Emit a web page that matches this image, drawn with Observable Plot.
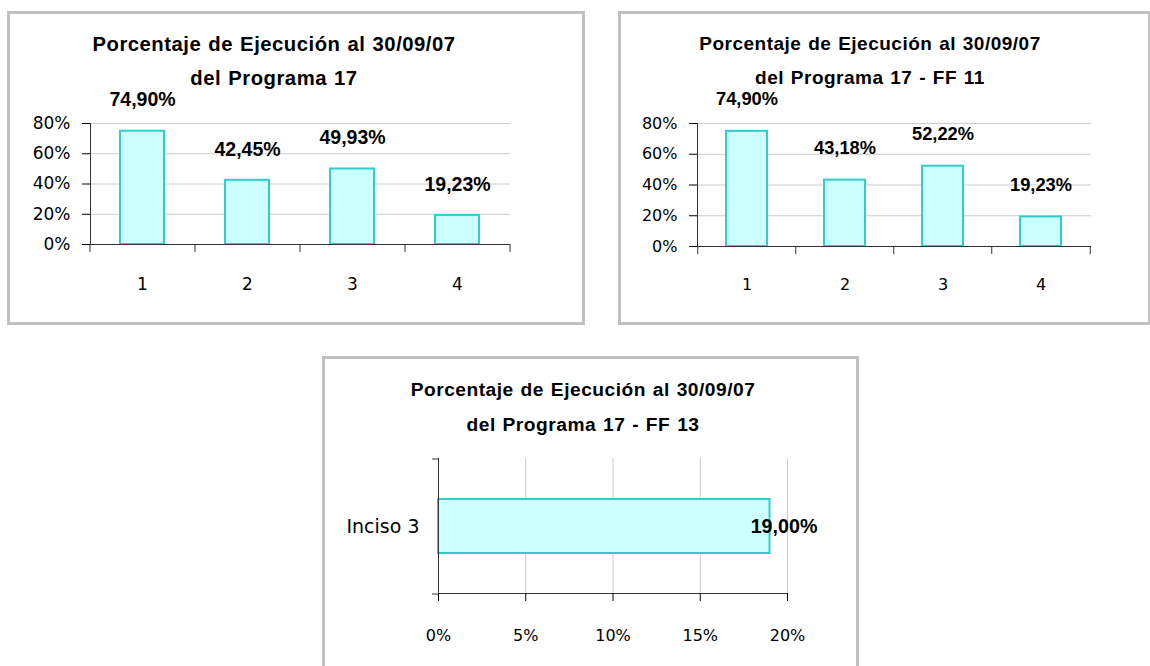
<!DOCTYPE html>
<html>
<head>
<meta charset="utf-8">
<script src="https://cdn.jsdelivr.net/npm/d3@7"></script>
<script src="https://cdn.jsdelivr.net/npm/@observablehq/plot@0.6"></script>
<style>
  html, body { margin: 0; padding: 0; background: #fff; }
  body { position: relative; width: 1150px; height: 666px; overflow: hidden; font-family: "DejaVu Sans", sans-serif; }
  .panel { position: absolute; border: 3px solid #c0c0c0; box-sizing: border-box; background: #fff; }
  .title { position: absolute; font-family: "Liberation Sans", Arial, sans-serif; font-weight: bold; text-align: center; white-space: nowrap; color: #000; transform: translateX(-50%); word-spacing: 1px; letter-spacing: 0.5px; }
  .chart { position: absolute; }
  .chart svg { display: block; overflow: visible; }
</style>
</head>
<body>
<script>
// ---- data ----
const categories = ["1", "2", "3", "4"];
const ejecucionP17 = [74.90, 42.45, 49.93, 19.23];
const ejecucionFF11 = [74.90, 43.18, 52.22, 19.23];
const incisos = ["Inciso 3"];
const ejecucionFF13 = [19.00];
const yTicksPct = [0, 20, 40, 60, 80];
const xTicksPct = [0, 5, 10, 15, 20];
const title1 = ["Porcentaje de Ejecución al 30/09/07", "del Programa 17"];
const title2 = ["Porcentaje de Ejecución al 30/09/07", "del Programa 17 - FF 11"];
const title3 = ["Porcentaje de Ejecución al 30/09/07", "del Programa 17 - FF 13"];

const fmtPct = v => v.toFixed(2).replace(".", ",") + "%";
const BAR_FILL = "#ccffff", BAR_STROKE = "#33cccc", AXIS = "#333", GRID = "#cccccc";
const TICK_FONT = '"DejaVu Sans", Verdana, sans-serif';
const LABEL_FONT = '"Liberation Sans", Arial, sans-serif';

function addPanel(left, top, width, height) {
  const d = document.createElement("div");
  d.className = "panel";
  Object.assign(d.style, {left: left + "px", top: top + "px", width: width + "px", height: height + "px"});
  document.body.appendChild(d);
}
function addTitle(lines, cx, top, fs, lh) {
  const d = document.createElement("div");
  d.className = "title";
  Object.assign(d.style, {left: cx + "px", top: top + "px", fontSize: fs + "px", lineHeight: lh + "px"});
  d.innerHTML = lines.join("<br>");
  document.body.appendChild(d);
}
function place(svg, left, top) {
  const w = document.createElement("div");
  w.className = "chart";
  Object.assign(w.style, {left: left + "px", top: top + "px"});
  w.appendChild(svg);
  document.body.appendChild(w);
}

function verticalChart(values, o) {
  const data = categories.map((c, i) => ({cat: c, value: values[i]}));
  const step = (o.width - o.ml - o.mr) / categories.length;
  return Plot.plot({
    width: o.width, height: o.height,
    marginLeft: o.ml, marginRight: o.mr, marginTop: o.mt, marginBottom: o.mb,
    style: {fontFamily: TICK_FONT, fontSize: o.tickFont + "px", color: "#000", background: "none", overflow: "visible"},
    x: {domain: categories, paddingInner: 0.58, paddingOuter: 0.29},
    y: {domain: [0, 80]},
    marks: [
      Plot.ruleY(yTicksPct.slice(1), {stroke: GRID, strokeWidth: 1}),
      Plot.barY(data, {x: "cat", y: "value", fill: BAR_FILL, stroke: BAR_STROKE, strokeWidth: 2}),
      Plot.ruleY([0], {stroke: AXIS}),
      Plot.frame({anchor: "left", stroke: AXIS}),
      Plot.ruleX(categories, {x: d => d, y1: 0, y2: 0, insetBottom: -8, dx: -step / 2, stroke: AXIS}),
      Plot.ruleX(categories.slice(-1), {x: d => d, y1: 0, y2: 0, insetBottom: -8, dx: step / 2, stroke: AXIS}),
      Plot.axisY(yTicksPct, {tickSize: 8, tickPadding: 12, tickFormat: d => d + "%", label: null, fontSize: o.tickFont}),
      Plot.axisX({tickSize: 0, tickPadding: o.xPad, label: null, fontSize: o.tickFont}),
      Plot.text(data, {x: "cat", y: "value", text: d => fmtPct(d.value), dy: o.labelDy, fontFamily: LABEL_FONT, fontWeight: "bold", fontSize: o.labelFont, fill: "#000"})
    ]
  });
}

function horizontalChart(values, o) {
  const data = incisos.map((c, i) => ({cat: c, value: values[i]}));
  const step = (o.height - o.mt - o.mb) / incisos.length;
  return Plot.plot({
    width: o.width, height: o.height,
    marginLeft: o.ml, marginRight: o.mr, marginTop: o.mt, marginBottom: o.mb,
    style: {fontFamily: TICK_FONT, fontSize: o.tickFont + "px", color: "#000", background: "none", overflow: "visible"},
    x: {domain: [0, 20]},
    y: {domain: incisos, paddingInner: 0.6, paddingOuter: 0.3},
    marks: [
      Plot.ruleX(xTicksPct.slice(1), {stroke: GRID, strokeWidth: 1}),
      Plot.barX(data, {x: "value", y: "cat", fill: BAR_FILL, stroke: BAR_STROKE, strokeWidth: 2}),
      Plot.ruleX([0], {stroke: AXIS}),
      Plot.frame({anchor: "bottom", stroke: AXIS}),
      Plot.ruleY(incisos, {y: d => d, x1: 0, x2: 0, insetLeft: -6, dy: -step / 2, stroke: AXIS}),
      Plot.ruleY(incisos, {y: d => d, x1: 0, x2: 0, insetLeft: -6, dy: step / 2, stroke: AXIS}),
      Plot.axisX(xTicksPct, {tickSize: 8, tickPadding: o.xPad, tickFormat: d => d + "%", label: null, fontSize: o.tickFont}),
      Plot.axisY({tickSize: 0, tickPadding: 19, label: null, fontSize: o.yTickFont}),
      Plot.text(data, {x: "value", y: "cat", text: d => fmtPct(d.value), dx: 14, fontFamily: LABEL_FONT, fontWeight: "bold", fontSize: o.labelFont, fill: "#000"})
    ]
  });
}

// ---- panels ----
addPanel(7, 11, 578, 314);
addPanel(618, 11, 533, 314);
addPanel(322, 356, 537, 330);

// ---- chart 1 ----
place(verticalChart(ejecucionP17, {width: 570, height: 306, ml: 80, mr: 70, mt: 109, mb: 76, tickFont: 17, labelFont: 19.5, labelDy: -31, xPad: 33}), 10, 14);
addTitle(title1, 274, 27, 20.3, 34);

// ---- chart 2 ----
place(verticalChart(ejecucionFF11, {width: 524, height: 306, ml: 75, mr: 55, mt: 109, mb: 74, tickFont: 16, labelFont: 18.3, labelDy: -32, xPad: 32}), 622, 14);
addTitle(title2, 870, 27, 19, 34);

// ---- chart 3 ----
place(horizontalChart(ejecucionFF13, {width: 528, height: 300, ml: 112, mr: 67, mt: 98, mb: 67, tickFont: 16, yTickFont: 19, labelFont: 19.7, xPad: 28}), 326, 360);
addTitle(title3, 583, 372, 19.2, 35);
</script>
</body>
</html>
